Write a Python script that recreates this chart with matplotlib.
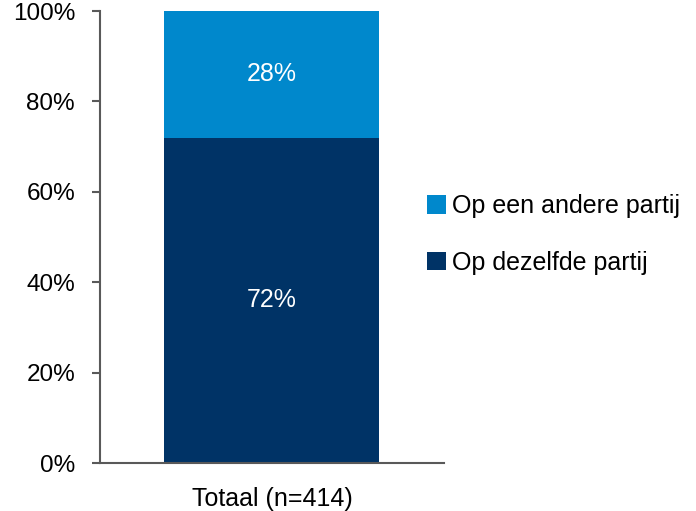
import matplotlib.pyplot as plt
from matplotlib.ticker import PercentFormatter

plt.rcParams['font.family'] = ['Liberation Sans', 'DejaVu Sans']

categories = ["Totaal (n=414)"]
same_party = [72]
other_party = [28]
series_labels = ["Op dezelfde partij", "Op een andere partij"]
colors = ["#003366", "#0088CC"]

fig = plt.figure(figsize=(6.96, 5.11), dpi=100)
ax = fig.add_axes([0.1437, 0.0939, 0.494, 0.8845])

x = range(len(categories))
b1 = ax.bar(x, same_party, width=0.625, color=colors[0], label=series_labels[0])
b2 = ax.bar(x, other_party, width=0.625, bottom=same_party, color=colors[1],
            label=series_labels[1])

for bars, vals, bottoms in [(b1, same_party, [0] * len(same_party)),
                            (b2, other_party, same_party)]:
    for bar, v, b in zip(bars, vals, bottoms):
        ax.text(bar.get_x() + bar.get_width() / 2, b + v / 2, f"{v}%",
                ha="center", va="center", color="white", fontsize=18)

ax.set_xlim(-0.5, 0.5)
ax.set_ylim(0, 100)
ax.set_yticks(range(0, 101, 20))
ax.yaxis.set_major_formatter(PercentFormatter(decimals=0))
ax.set_xticks(list(x))
ax.set_xticklabels(categories)

for s in ["top", "right"]:
    ax.spines[s].set_visible(False)
for s in ["left", "bottom"]:
    ax.spines[s].set_color("#595959")
    ax.spines[s].set_linewidth(1.5)

ax.tick_params(axis="y", length=6, width=1.5, color="#595959", pad=12,
               labelsize=17.5)
ax.tick_params(axis="x", length=0, pad=17, labelsize=18)

handles = [b2, b1]
fig.legend(handles, [h.get_label() for h in handles], loc="center left",
           bbox_to_anchor=(0.614, 0.541), frameon=False, fontsize=18,
           handlelength=0.75, handleheight=0.75, handletextpad=0.25,
           labelspacing=1.3, borderpad=0, borderaxespad=0)

fig.savefig("out.png", dpi=100)
